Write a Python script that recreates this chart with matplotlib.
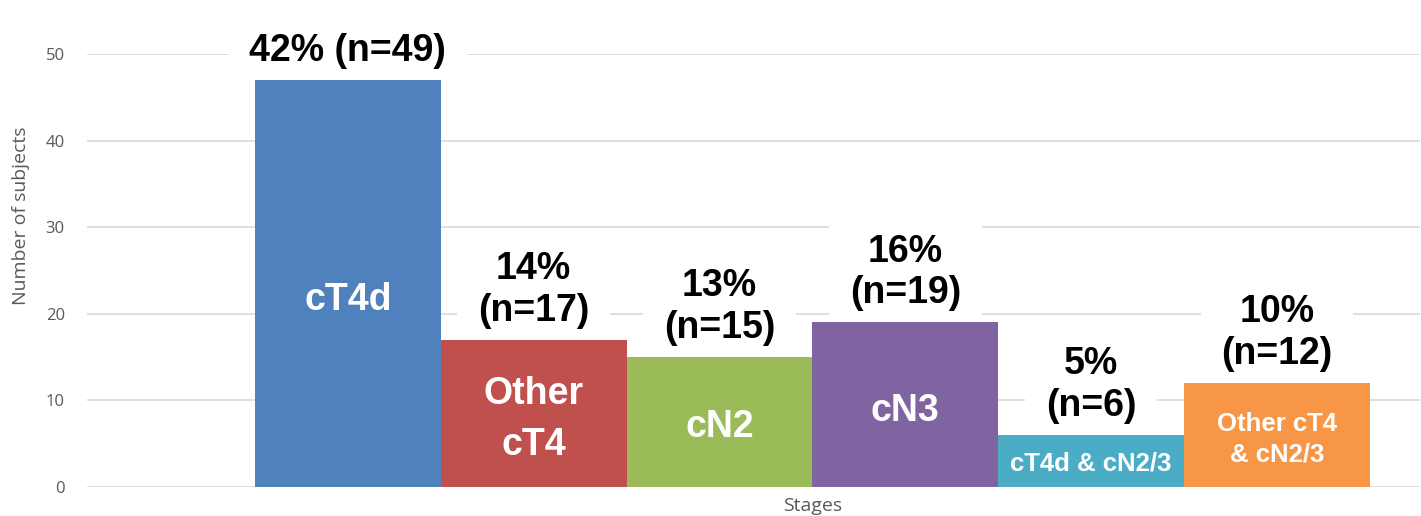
import matplotlib
matplotlib.use("Agg")
import matplotlib.pyplot as plt
import matplotlib.transforms as mtransforms
import numpy as np

# DATA
stages = ["cT4d", "Other\ncT4", "cN2", "cN3", "cT4d & cN2/3", "Other cT4\n& cN2/3"]
counts = [47, 17, 15, 19, 6, 12]
top_labels = ["42% (n=49)", "14%\n(n=17)", "13%\n(n=15)", "16%\n(n=19)", "5%\n(n=6)", "10%\n(n=12)"]
colors = ["#4F81BD", "#C0504D", "#9BBB59", "#8064A2", "#4BACC6", "#F79646"]
inner_sizes = [27, 27, 27, 27, 18.5, 18.5]
inner_spacing = [1.2, 1.55, 1.2, 1.2, 1.2, 1.3]

# FIGURE
fig = plt.figure(figsize=(14.21, 5.16), dpi=100)
ax = fig.add_axes([87 / 1421, 1 - 487 / 516, 1333 / 1421, 433 / 516])

x = np.arange(len(counts))
ax.bar(x, counts, width=1.0, align="edge", color=colors, linewidth=0, zorder=4)

ax.set_xlim(-0.904, 6.27)
ax.set_ylim(0, 50)
ax.set_yticks([0, 10, 20, 30, 40, 50])
ax.set_xticks([])
ax.grid(axis="y", color="#D9D9D9", linewidth=1.2, zorder=0)
ax.set_axisbelow(True)
for s in ax.spines.values():
    s.set_visible(False)
ax.tick_params(axis="y", length=0, pad=16, labelsize=12, labelcolor="#595959")
for t in ax.get_yticklabels():
    t.set_family("Open Sans")

ax.set_ylabel("Number of subjects", fontsize=14, color="#595959", family="Open Sans")
ax.yaxis.set_label_coords(-0.043, 0.626)
ax.set_xlabel("Stages", fontsize=14, color="#595959", family="Open Sans")
ax.xaxis.set_label_coords(0.544, -0.022)

# labels above bars, white boxes hide the gridlines
lift = mtransforms.ScaledTranslation(0, 11 / 100, fig.dpi_scale_trans)
for i, (c, lab) in enumerate(zip(counts, top_labels)):
    ax.text(i + 0.5, c, lab, ha="center", va="bottom", fontsize=27,
            fontweight="bold", family="Liberation Sans", linespacing=1.2,
            transform=ax.transData + lift, zorder=3,
            bbox=dict(boxstyle="square,pad=0.55", facecolor="white", edgecolor="none"))

# labels inside bars
for i, (c, lab, fs, ls) in enumerate(zip(counts, stages, inner_sizes, inner_spacing)):
    ax.text(i + 0.5, c * 0.46, lab, ha="center", va="center", fontsize=fs,
            fontweight="bold", family="Liberation Sans", color="white",
            linespacing=ls, zorder=5)

fig.savefig("out.png", dpi=100)
